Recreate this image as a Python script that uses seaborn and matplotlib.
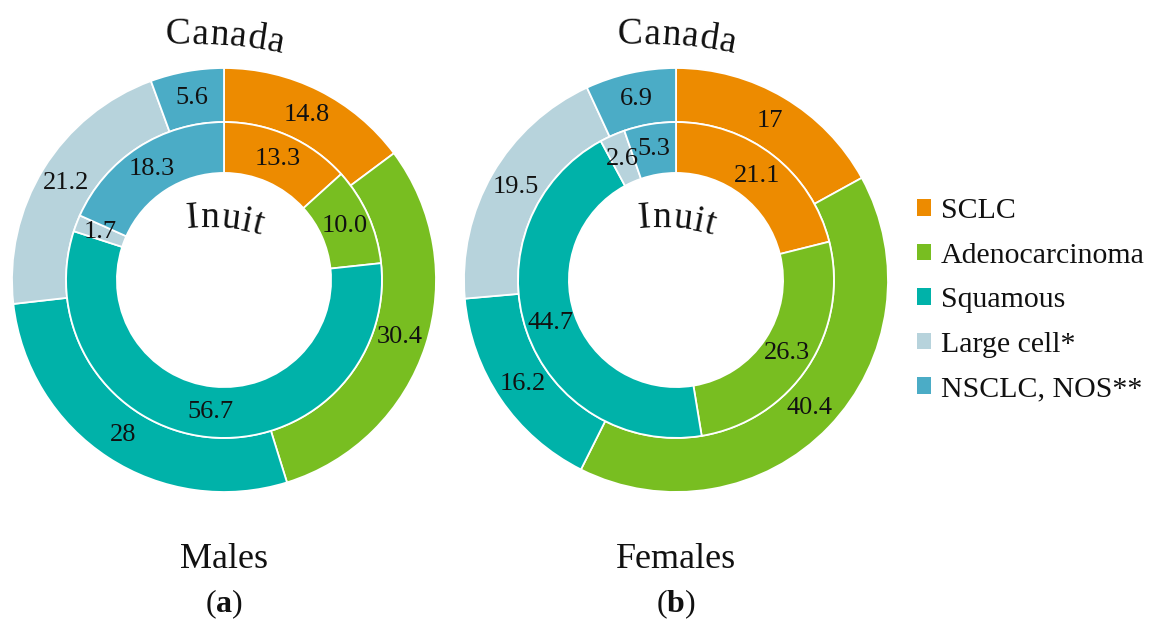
import numpy as np
import matplotlib
matplotlib.use("Agg")
import matplotlib.pyplot as plt
from matplotlib.patches import Patch
from matplotlib.font_manager import FontProperties
from matplotlib.textpath import TextToPath
import seaborn as sns

# ---------------- data ----------------
categories = ["SCLC", "Adenocarcinoma", "Squamous", "Large cell*", "NSCLC, NOS**"]
males_canada = [14.8, 30.4, 28, 21.2, 5.6]
males_inuit = [13.3, 10.0, 56.7, 1.7, 18.3]
females_canada = [17, 40.4, 16.2, 19.5, 6.9]
females_inuit = [21.1, 26.3, 44.7, 2.6, 5.3]
panel_titles = ["Males", "Females"]
panel_letters = ["a", "b"]
colors = ["#ED8B00", "#78BE21", "#00B2A9", "#B7D3DC", "#4BACC6"]

# ---------------- style ----------------
sns.set_theme(style="white")
plt.rcParams["font.family"] = ["Liberation Serif", "DejaVu Serif"]
plt.rcParams["mathtext.fontset"] = "custom"
plt.rcParams["mathtext.rm"] = "Liberation Serif"
plt.rcParams["mathtext.bf"] = "Liberation Serif:bold"
palette = sns.color_palette(colors)

W, H, DPI = 1150, 619, 100
fig = plt.figure(figsize=(W / DPI, H / DPI), dpi=DPI)
fig.patch.set_facecolor("white")

R_PX = 212
R_MID = 0.745
R_HOLE = 0.505
TXT = "#111111"

ttp = TextToPath()


def ink_width(s, fp):
    if not s:
        return 0.0
    w, h, d = ttp.get_text_width_height_descent(s, fp, ismath=False)
    return w * DPI / 72.0


def arc_text(s, cx, by_img, R, theta_mid, size, spacing=1.0):
    fp = FontProperties(family=["Liberation Serif"], size=size)
    total = ink_width(s, fp) * spacing
    by = H - by_img
    tm = np.radians(theta_mid)
    acx = cx - R * np.sin(tm)
    acy = by - R * np.cos(tm)
    for i, ch in enumerate(s):
        c = (ink_width(s[: i + 1], fp) - ink_width(ch, fp) / 2) * spacing
        off = c - total / 2
        th = tm + off / R
        x = acx + R * np.sin(th)
        y = acy + R * np.cos(th)
        fig.text(x / W, y / H, ch, color=TXT,
                 ha="center", va="baseline", rotation=-np.degrees(th),
                 rotation_mode="anchor", fontproperties=fp)


def donut(cx, outer, inner, title, letter):
    ax = fig.add_axes([(cx - R_PX) / W, (H - 280 - R_PX) / H,
                       2 * R_PX / W, 2 * R_PX / H])
    wo, _ = ax.pie(outer, radius=1.0, colors=palette, startangle=90,
                   counterclock=False,
                   wedgeprops=dict(width=1.0 - R_MID, edgecolor="white",
                                   linewidth=1.3))
    wi, _ = ax.pie(inner, radius=R_MID, colors=palette, startangle=90,
                   counterclock=False,
                   wedgeprops=dict(width=R_MID - R_HOLE, edgecolor="white",
                                   linewidth=1.3))
    ax.set_xlim(-1, 1)
    ax.set_ylim(-1, 1)
    ax.set_aspect("equal")
    ax.axis("off")
    for wedges, vals, r, fmt in ((wo, outer, 0.873, "{:g}"),
                                 (wi, inner, 0.625, "{:.1f}")):
        for w, v in zip(wedges, vals):
            ang = np.radians((w.theta1 + w.theta2) / 2)
            ax.text(r * np.cos(ang), r * np.sin(ang), fmt.format(v),
                    ha="center", va="center", fontsize=19, color=TXT)
    # bottom captions
    fig.text(cx / W, (H - 568) / H, title, ha="center", va="baseline",
             fontsize=26, color=TXT)
    fig.text(cx / W, (H - 612) / H, "(" + r"$\mathbf{" + letter + "}$" + ")",
             ha="center", va="baseline", fontsize=23, color=TXT)
    # curved ring titles
    arc_text("Canada", cx, 45, 460, 4.5, 27, spacing=1.05)
    arc_text("Inuit", cx, 228, 190, 5, 27, spacing=1.05)


donut(224, males_canada, males_inuit, panel_titles[0], panel_letters[0])
donut(676, females_canada, females_inuit, panel_titles[1], panel_letters[1])

handles = [Patch(facecolor=c, edgecolor="none") for c in palette]
fig.legend(handles, categories, loc="upper left",
           bbox_to_anchor=(917 / W, (H - 198) / H), frameon=False,
           fontsize=21.5, handlelength=0.47, handleheight=0.47,
           handletextpad=0.33, labelspacing=0.62, borderpad=0,
           borderaxespad=0, labelcolor=TXT)

fig.savefig("out.png", dpi=DPI, facecolor="white")
